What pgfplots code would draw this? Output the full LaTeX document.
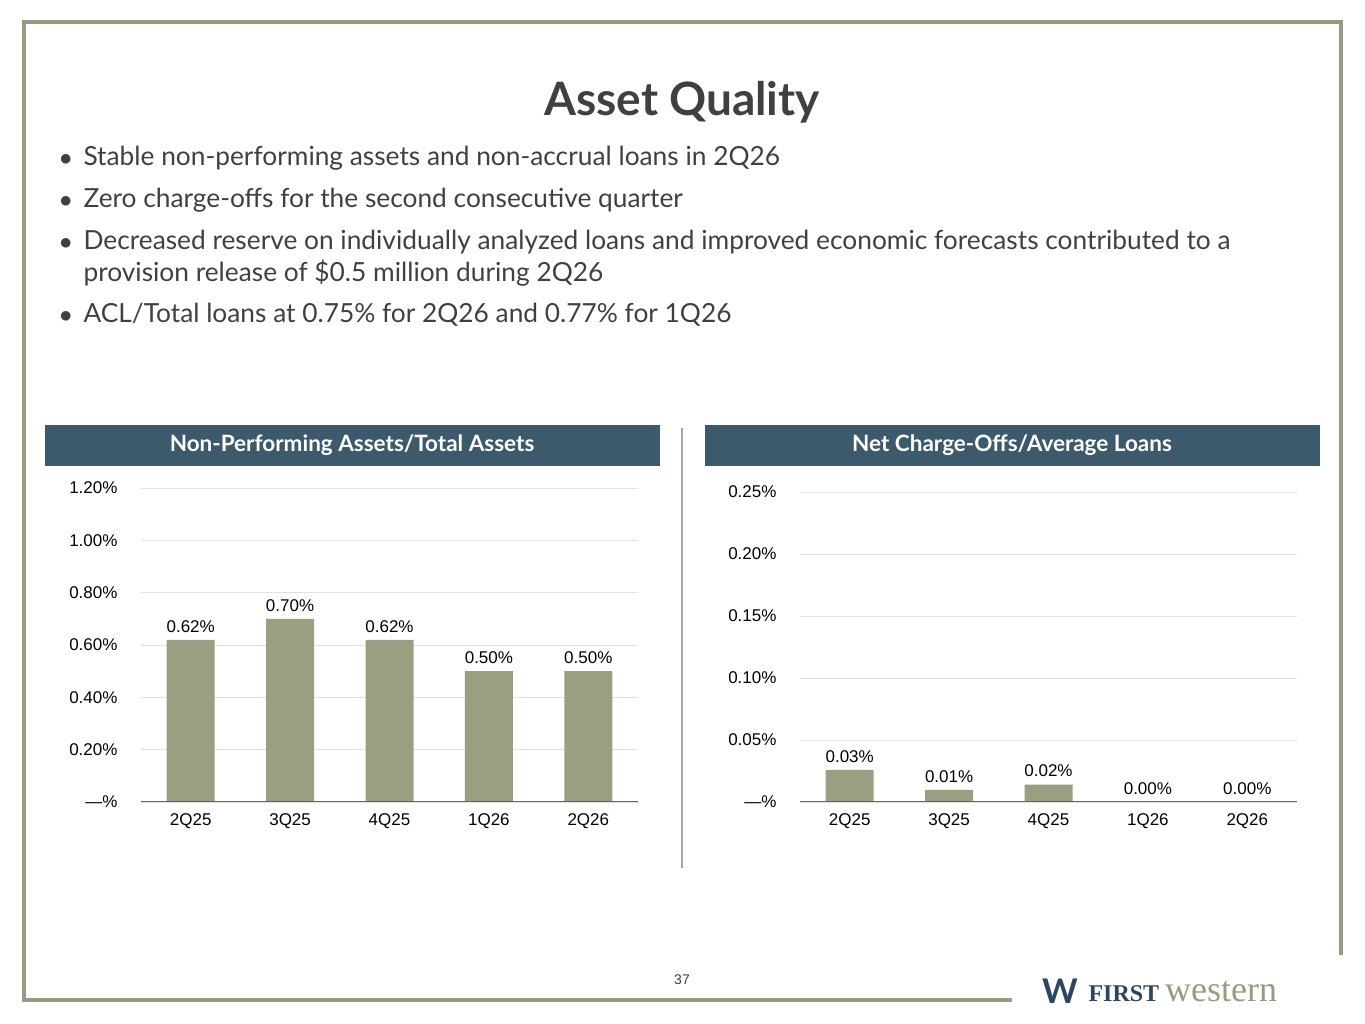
\documentclass[border=0pt]{standalone}
\usepackage{pgfplots}
\pgfplotsset{compat=1.18}
\usepackage{fontspec}
\setmainfont{Lato}
\newfontfamily\arial{Liberation Sans}
\newfontfamily\serifw{Liberation Serif}
\definecolor{frame}{RGB}{152,155,128}
\definecolor{bar}{RGB}{154,159,130}
\definecolor{band}{RGB}{61,90,108}
\definecolor{txt}{RGB}{64,64,64}
\definecolor{gridc}{RGB}{225,225,225}
\definecolor{logob}{RGB}{45,70,95}
\pgfplotsset{
  myax/.style={scale only axis, width=497pt, ymin=0,
    xmin=-0.5, xmax=4.5, xtick=data,
    xticklabels={2Q25,3Q25,4Q25,1Q26,2Q26},
    ybar, bar width=48pt,
    axis line style={draw=none},
    tick style={draw=none},
    xtick pos=bottom, ytick pos=left,
    ymajorgrids, grid style={gridc,line width=0.8pt},
    tick label style={font=\arial\fontsize{17}{20}\selectfont,text=black},
    xticklabel style={yshift=-4pt},
    yticklabel style={anchor=east,xshift=-20pt},
    nodes near coords, point meta=explicit symbolic,
    every node near coord/.append style={font=\arial\fontsize{17}{20}\selectfont,black,yshift=4pt},
    /pgf/number format/assume math mode=true,
  }
}
\begin{document}
\begin{tikzpicture}
\begin{scope}[x=1pt,y=1pt]
\useasboundingbox (0,0) rectangle (1365,1024);
\draw[frame,line width=4pt] (1012,24) -- (24,24) -- (24,1002) -- (1341,1002) -- (1341,69);
\node[txt,font=\fontsize{46}{52}\selectfont\bfseries] at (682,922) {Asset Quality};
\begin{scope}[every node/.style={anchor=west,txt,font=\fontsize{26.3}{31}\selectfont}]
\node at (56,864) {$\bullet$};
\node at (80,866) {Stable non-performing assets and non-accrual loans in 2Q26};
\node at (56,822) {$\bullet$};
\node at (80,824) {Zero charge-offs for the second consecutive quarter};
\node at (56,780) {$\bullet$};
\node at (80,782) {Decreased reserve on individually analyzed loans and improved economic forecasts contributed to a};
\node at (80,751) {provision release of \$0.5 million during 2Q26};
\node at (56,707) {$\bullet$};
\node at (80,709) {ACL/Total loans at 0.75\% for 2Q26 and 0.77\% for 1Q26};
\end{scope}
\fill[band] (45,558) rectangle (660,599);
\node[white,font=\fontsize{22.5}{25}\selectfont\bfseries] at (352,579) {Non-Performing Assets/Total Assets};
\fill[band] (705,558) rectangle (1320,599);
\node[white,font=\fontsize{22.5}{25}\selectfont\bfseries] at (1012,579) {Net Charge-Offs/Average Loans};
\draw[gray!70,line width=1.5pt] (682,596) -- (682,156);
\node[txt,font=\arial\fontsize{14}{16}\selectfont] at (682,44) {37};
\node[logob,font=\fontsize{34}{36}\selectfont\bfseries] at (1060,33) {W};
\node[anchor=west,font=\serifw\fontsize{24}{28}\selectfont] at (1085,32) {\textcolor{logob}{\textbf{FIRST}}\textcolor{frame}{\fontsize{36}{36}\selectfont\,western}};
\end{scope}
\begin{axis}[myax, at={(141pt,222pt)}, anchor=south west, height=314pt, ymax=1.2,
  ytick={0,0.2,0.4,0.6,0.8,1.0,1.2},
  yticklabels={—\%,0.20\%,0.40\%,0.60\%,0.80\%,1.00\%,1.20\%}]
\addplot[fill=bar,draw=none] table[meta=l]{
x y l
0 0.62 0.62\%
1 0.70 0.70\%
2 0.62 0.62\%
3 0.50 0.50\%
4 0.50 0.50\%
};
\draw[gray!80!black,line width=1pt] (axis cs:-0.5,0) -- (axis cs:4.5,0);
\end{axis}
\begin{axis}[myax, at={(800pt,222pt)}, anchor=south west, height=310pt, ymax=0.25,
  ytick={0,0.05,0.1,0.15,0.2,0.25},
  yticklabels={—\%,0.05\%,0.10\%,0.15\%,0.20\%,0.25\%}]
\addplot[fill=bar,draw=none] table[meta=l]{
x y l
0 0.026 0.03\%
1 0.0097 0.01\%
2 0.014 0.02\%
3 0 0.00\%
4 0 0.00\%
};
\draw[gray!80!black,line width=1pt] (axis cs:-0.5,0) -- (axis cs:4.5,0);
\end{axis}
\end{tikzpicture}
\end{document}
